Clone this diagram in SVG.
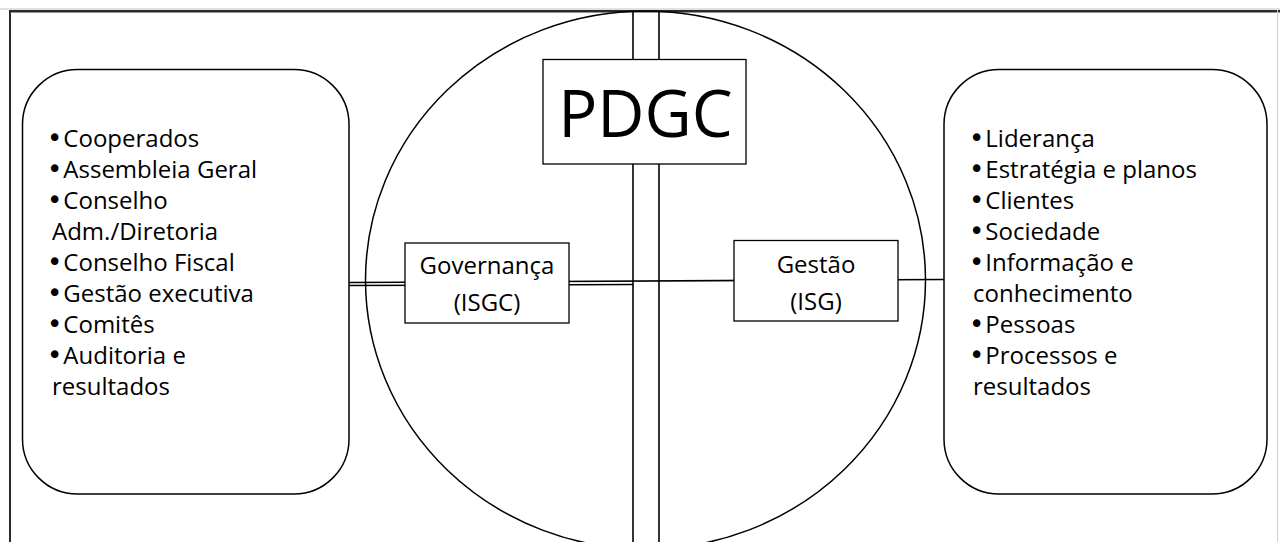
<svg xmlns="http://www.w3.org/2000/svg" width="1280" height="542" viewBox="0 0 1280 542">
  <style>
    .shape { fill: #fff; stroke: #000; stroke-width: 1.5; }
    .box { fill: #fff; stroke: #000; stroke-width: 1.3; }
    .line { fill: none; stroke: #000; stroke-width: 1.6; }
    .txt { font-family: "Open Sans", "Liberation Sans", sans-serif; font-size: 24px; fill: #000; }
    .mid { text-anchor: middle; }
    .big { font-size: 65px; }
    .b { font-family: "DejaVu Sans", sans-serif; font-size: 26px; }
  </style>
  <rect x="0" y="0" width="1280" height="542" fill="#fff"/>
  <g id="frame">
    <line x1="0" y1="9" x2="1280" y2="9" stroke="#c4c4c4" stroke-width="1"/>
    <line x1="9" y1="11.2" x2="1280" y2="11.2" stroke="#2a2a2a" stroke-width="2.4"/>
    <line x1="10" y1="10" x2="10" y2="542" stroke="#2a2a2a" stroke-width="2"/>
    <line x1="1277.5" y1="10" x2="1277.5" y2="542" stroke="#d0d0d0" stroke-width="1"/>
  </g>
  <g id="circle">
    <ellipse cx="645.5" cy="280" rx="280" ry="269" fill="none" stroke="#000" stroke-width="1.5"/>
  </g>
  <g id="connectors">
    <line class="line" x1="633" y1="12" x2="633" y2="59.5"/>
    <line class="line" x1="659" y1="12" x2="659" y2="59.5"/>
    <line class="line" x1="633" y1="164" x2="633" y2="542"/>
    <line class="line" x1="659" y1="164" x2="659" y2="542"/>
    <line class="line" x1="349" y1="282.5" x2="944" y2="279.5" stroke-width="2"/>
    <line class="line" x1="349" y1="285.5" x2="633" y2="284.5" stroke-width="1.2"/>
  </g>
  <g id="left-box">
    <rect class="shape" x="22.5" y="69.5" width="326.5" height="424.5" rx="55" ry="55"/>
    <text class="txt" x="47" y="147"><tspan class="b">•</tspan><tspan dx="1">Cooperados</tspan></text>
    <text class="txt" x="47" y="178"><tspan class="b">•</tspan><tspan dx="1">Assembleia Geral</tspan></text>
    <text class="txt" x="47" y="209"><tspan class="b">•</tspan><tspan dx="1">Conselho</tspan></text>
    <text class="txt" x="52" y="240">Adm./Diretoria</text>
    <text class="txt" x="47" y="271"><tspan class="b">•</tspan><tspan dx="1">Conselho Fiscal</tspan></text>
    <text class="txt" x="47" y="302"><tspan class="b">•</tspan><tspan dx="1">Gestão executiva</tspan></text>
    <text class="txt" x="47" y="333"><tspan class="b">•</tspan><tspan dx="1">Comitês</tspan></text>
    <text class="txt" x="47" y="364"><tspan class="b">•</tspan><tspan dx="1">Auditoria e</tspan></text>
    <text class="txt" x="52" y="395">resultados</text>
  </g>
  <g id="right-box">
    <rect class="shape" x="944" y="69.5" width="323" height="424.5" rx="55" ry="55"/>
    <text class="txt" x="969" y="147"><tspan class="b">•</tspan><tspan dx="1">Liderança</tspan></text>
    <text class="txt" x="969" y="178"><tspan class="b">•</tspan><tspan dx="1">Estratégia e planos</tspan></text>
    <text class="txt" x="969" y="209"><tspan class="b">•</tspan><tspan dx="1">Clientes</tspan></text>
    <text class="txt" x="969" y="240"><tspan class="b">•</tspan><tspan dx="1">Sociedade</tspan></text>
    <text class="txt" x="969" y="271"><tspan class="b">•</tspan><tspan dx="1">Informação e</tspan></text>
    <text class="txt" x="973" y="302">conhecimento</text>
    <text class="txt" x="969" y="333"><tspan class="b">•</tspan><tspan dx="1">Pessoas</tspan></text>
    <text class="txt" x="969" y="364"><tspan class="b">•</tspan><tspan dx="1">Processos e</tspan></text>
    <text class="txt" x="973" y="395">resultados</text>
  </g>
  <g id="pdgc">
    <rect class="box" x="543" y="59.5" width="203" height="104.5"/>
    <text class="txt mid big" x="645.5" y="137">PDGC</text>
  </g>
  <g id="governanca">
    <rect class="box" x="405" y="243" width="164" height="80"/>
    <text class="txt mid" x="487" y="274" font-size="25">Governança</text>
    <text class="txt mid" x="487" y="311" font-size="25">(ISGC)</text>
  </g>
  <g id="gestao">
    <rect class="box" x="734" y="240.5" width="164" height="80.5"/>
    <text class="txt mid" x="816" y="272.5" font-size="25">Gestão</text>
    <text class="txt mid" x="816" y="310" font-size="25">(ISG)</text>
  </g>
</svg>
